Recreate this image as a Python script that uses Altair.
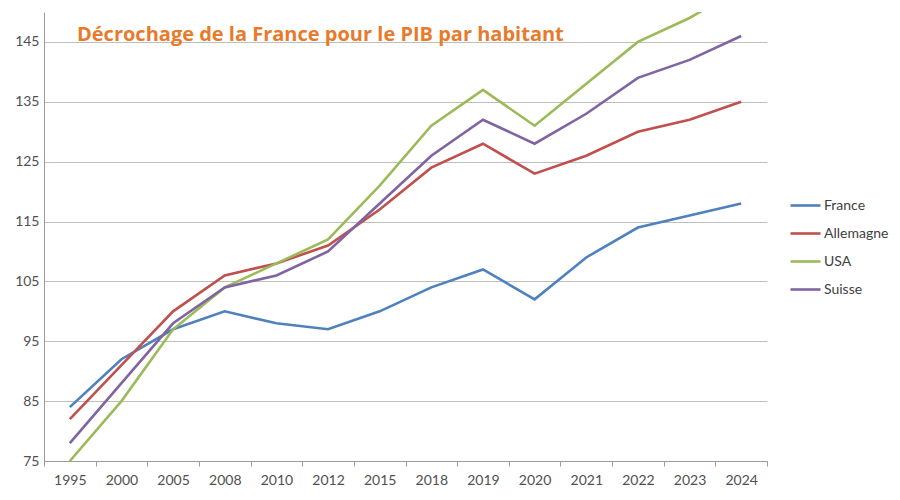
import altair as alt
import pandas as pd

years = ["1995", "2000", "2005", "2008", "2010", "2012", "2015", "2018",
         "2019", "2020", "2021", "2022", "2023", "2024"]
france = [84, 92, 97, 100, 98, 97, 100, 104, 107, 102, 109, 114, 116, 118]
allemagne = [82, 91, 100, 106, 108, 111, 117, 124, 128, 123, 126, 130, 132, 135]
usa = [75, 85, 97, 104, 108, 112, 121, 131, 137, 131, 138, 145, 149, 154]
suisse = [78, 88, 98, 104, 106, 110, 118, 126, 132, 128, 133, 139, 142, 146]

series = ["France", "Allemagne", "USA", "Suisse"]
colors = ["#4F81BD", "#C0504D", "#9BBB59", "#8064A2"]

rows = []
for name, vals in zip(series, [france, allemagne, usa, suisse]):
    for y, v in zip(years, vals):
        rows.append({"annee": y, "valeur": v, "pays": name})
df = pd.DataFrame(rows)

chart = alt.Chart(df).mark_line(strokeWidth=2.6, clip=True).encode(
    x=alt.X("annee:O", title=None, sort=years,
            scale=alt.Scale(type="band", paddingInner=0, paddingOuter=0),
            bandPosition=0.5,
            axis=alt.Axis(labelAngle=0, tickBand="extent", grid=False,
                          domainColor="#9A9A9A", tickColor="#9A9A9A",
                          tickSize=5, labelPadding=7)),
    y=alt.Y("valeur:Q", title=None,
            scale=alt.Scale(domain=[75, 150], nice=False, zero=False),
            axis=alt.Axis(values=[75, 85, 95, 105, 115, 125, 135, 145],
                          ticks=False, domainColor="#9A9A9A",
                          gridColor="#BEBEBE", labelPadding=5)),
    color=alt.Color("pays:N", sort=series, title=None,
                    scale=alt.Scale(domain=series, range=colors),
                    legend=alt.Legend(orient="none", legendX=745, legendY=177,
                                      symbolType="stroke", symbolSize=900,
                                      symbolStrokeWidth=2.6, labelFontSize=14,
                                      labelOffset=2, rowPadding=4,
                                      labelColor="#404040", padding=0)),
).properties(
    width=723, height=449,
    title=alt.TitleParams("Décrochage de la France pour le PIB par habitant",
                          anchor="start", frame="group", offset=-33, dx=33,
                          font="Open Sans", fontSize=20, fontWeight="bold",
                          color="#E87A2C"),
    padding={"left": 36, "top": 4, "right": 125, "bottom": 31},
    autosize=alt.AutoSizeParams(type="none"),
).configure_axis(
    labelFont="Lato", labelFontSize=14, labelColor="#505050",
).configure_legend(
    labelFont="Lato",
).configure_view(stroke=None)

chart.save("out.html", embed_options={"renderer": "svg", "actions": False})
